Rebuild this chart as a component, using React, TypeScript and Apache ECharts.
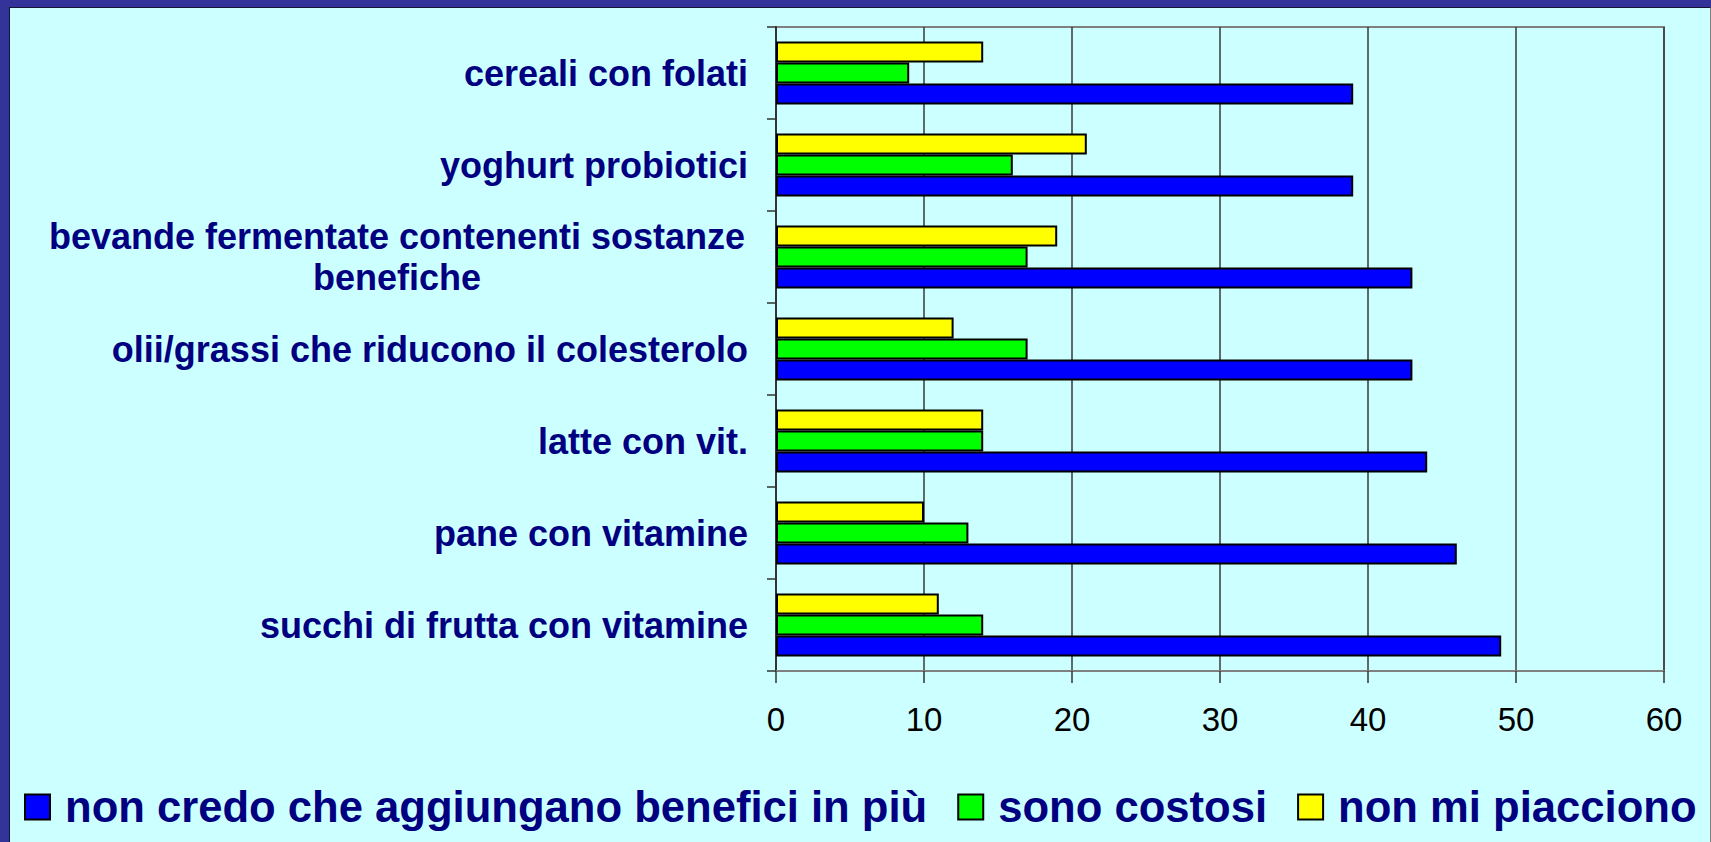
import React, { useEffect, useRef } from "react";
import * as echarts from "echarts";

const categories: string[] = [
  "succhi di frutta con vitamine",
  "pane con vitamine",
  "latte con vit.",
  "olii/grassi che riducono il colesterolo",
  "bevande fermentate contenenti sostanze benefiche",
  "yoghurt probiotici",
  "cereali con folati",
];

const seriesNames: string[] = [
  "non credo che aggiungano benefici in più",
  "sono costosi",
  "non mi piacciono",
];

const blueValues: number[] = [49, 46, 44, 43, 43, 39, 39];
const greenValues: number[] = [14, 13, 14, 17, 17, 16, 9];
const yellowValues: number[] = [11, 10, 14, 12, 19, 21, 14];

const xTicks: number[] = [0, 10, 20, 30, 40, 50, 60];

const FONT = "'Liberation Sans', Arial, Helvetica, sans-serif";
const NAVY = "#000080";

function wrapLabel(v: string): string {
  if (v.length <= 40) return v;
  const words = v.split(" ");
  const lines: string[] = [];
  let cur = "";
  for (const w of words) {
    const next = cur ? cur + " " + w : w;
    if (next.length > 40 && cur) {
      lines.push(cur);
      cur = w;
    } else {
      cur = next;
    }
  }
  if (cur) lines.push(cur);
  return lines.map((l) => "{c|" + l + "}").join("\n");
}

export default function App() {
  const ref = useRef<HTMLDivElement>(null);

  useEffect(() => {
    if (!ref.current) return;
    const chart = echarts.init(ref.current, null, { renderer: "svg" });
    const barStyle = (color: string) => ({
      color,
      borderColor: "#000000",
      borderWidth: 2,
    });
    chart.setOption({
      animation: false,
      backgroundColor: "transparent",
      textStyle: { fontFamily: FONT },
      grid: {
        left: 766,
        right: 46,
        top: 19,
        bottom: 171,
        show: true,
        borderColor: "#808080",
        borderWidth: 2,
        backgroundColor: "transparent",
      },
      legend: {
        data: seriesNames,
        left: 14,
        top: 777,
        width: 1686,
        padding: 0,
        itemWidth: 25,
        itemHeight: 25,
        itemGap: 30,
        icon: "rect",
        itemStyle: { borderColor: "#000000", borderWidth: 2 },
        textStyle: {
          fontFamily: FONT,
          fontSize: 43.6,
          fontWeight: "bold",
          color: NAVY,
          padding: [0, 0, 0, 10],
        },
      },
      xAxis: {
        type: "value",
        min: xTicks[0],
        max: xTicks[xTicks.length - 1],
        interval: 10,
        axisLine: { show: true, lineStyle: { color: "#808080", width: 2 } },
        axisTick: { show: true, length: 12, lineStyle: { color: "#333333", width: 1.5 } },
        axisLabel: {
          fontFamily: FONT,
          fontSize: 33,
          color: "#000000",
          margin: 32,
        },
        splitLine: { show: true, lineStyle: { color: "#3a3a3a", width: 1.5 } },
      },
      yAxis: {
        type: "category",
        data: categories,
        axisLine: { show: true, lineStyle: { color: "#333333", width: 2 } },
        axisTick: { show: true, length: 9, lineStyle: { color: "#333333", width: 1.5 } },
        axisLabel: {
          fontFamily: FONT,
          fontSize: 36,
          fontWeight: "bold",
          color: NAVY,
          margin: 28,
          lineHeight: 41,
          formatter: (v: string) => wrapLabel(v),
          rich: {
            c: {
              width: 702,
              align: "center",
              fontFamily: FONT,
              fontSize: 36,
              fontWeight: "bold",
              color: NAVY,
              lineHeight: 41,
            },
          },
        },
        splitLine: { show: false },
      },
      series: [
        {
          name: seriesNames[2],
          type: "bar",
          data: yellowValues,
          barWidth: 21,
          barGap: "0%",
          itemStyle: barStyle("#FFFF00"),
        },
        {
          name: seriesNames[1],
          type: "bar",
          data: greenValues,
          barWidth: 21,
          barGap: "0%",
          itemStyle: barStyle("#00FF00"),
        },
        {
          name: seriesNames[0],
          type: "bar",
          data: blueValues,
          barWidth: 21,
          barGap: "0%",
          itemStyle: barStyle("#0000FF"),
        },
      ],
    });
    return () => chart.dispose();
  }, []);

  return (
    <div
      style={{
        position: "fixed",
        left: 0,
        top: 0,
        width: 1711,
        height: 842,
        background: "#333399",
        overflow: "hidden",
      }}
    >
      <div
        style={{
          position: "absolute",
          left: 9,
          top: 7,
          right: 0,
          bottom: 0,
          background: "#CCFFFF",
          borderTop: "1px solid #15153a",
          borderLeft: "1px solid #15153a",
          borderRight: "1px solid #808080",
          boxSizing: "border-box",
        }}
      />
      <div
        ref={ref}
        style={{ position: "absolute", left: 10, top: 8, width: 1700, height: 834 }}
      />
    </div>
  );
}
